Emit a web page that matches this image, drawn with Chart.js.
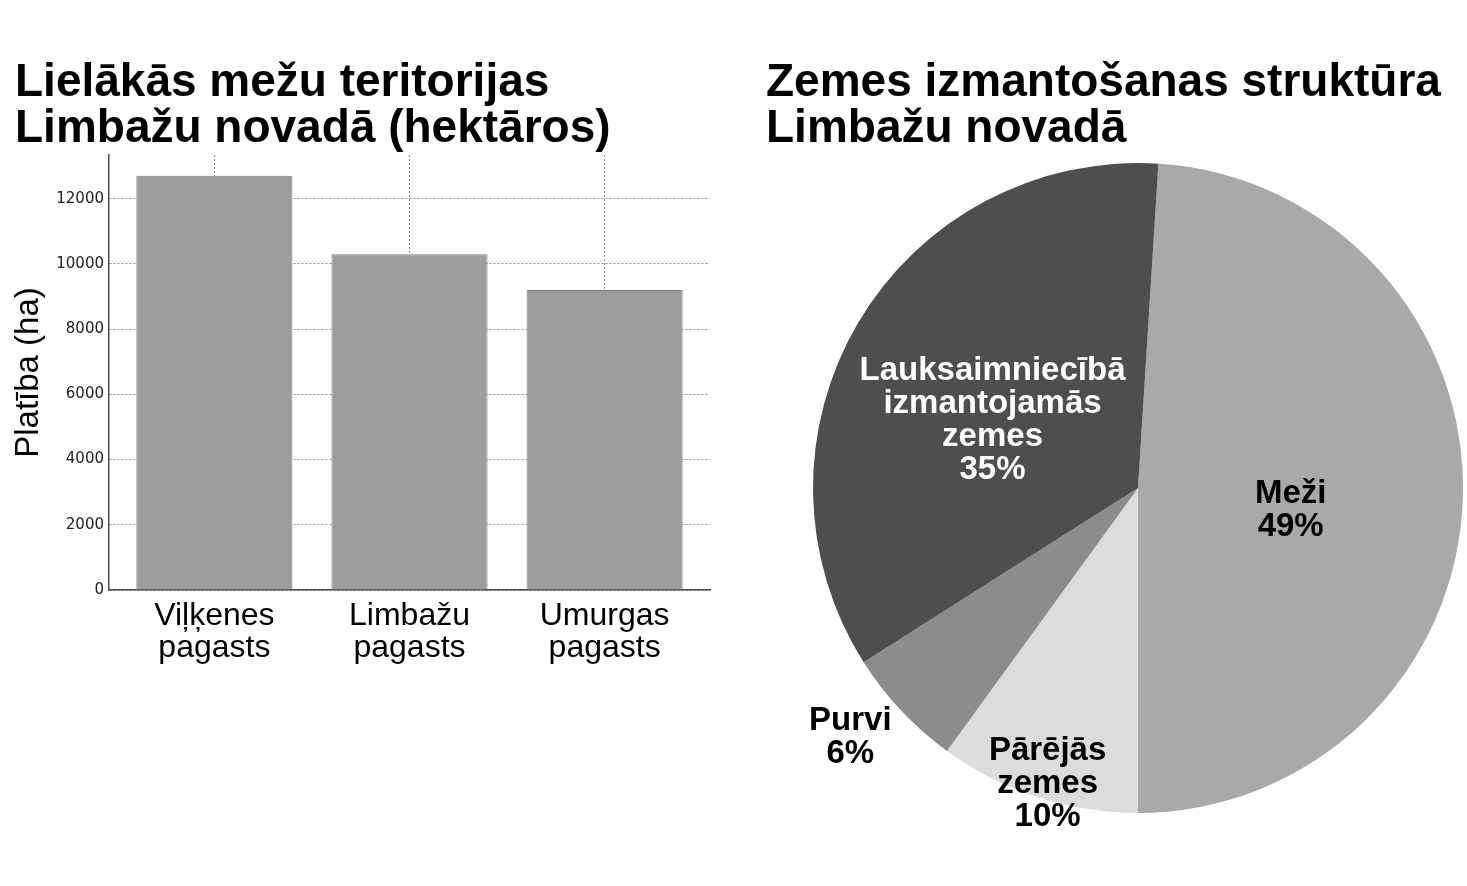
<!DOCTYPE html>
<html>
<head>
<meta charset="utf-8">
<script src="https://cdn.jsdelivr.net/npm/chart.js@4/dist/chart.umd.min.js"></script>
<style>
html,body{margin:0;padding:0;background:#fff;overflow:hidden;width:1467px;height:886px;}
#barWrap{position:absolute;left:0;top:0;width:735px;height:886px;}
#pieWrap{position:absolute;left:735px;top:0;width:775px;height:886px;}
</style>
</head>
<body>
<div id="barWrap"><canvas id="bar"></canvas></div>
<div id="pieWrap"><canvas id="pie"></canvas></div>
<script>
// ---- data ----
const barTitle = ["Lielākās mežu teritorijas", "Limbažu novadā (hektāros)"];
const barCategories = [["Viļķenes", "pagasts"], ["Limbažu", "pagasts"], ["Umurgas", "pagasts"]];
const barValues = [12700, 10300, 9200];
const yTickValues = [0, 2000, 4000, 6000, 8000, 10000, 12000];
const yAxisTitle = "Platība (ha)";

const pieTitle = ["Zemes izmantošanas struktūra", "Limbažu novadā"];
const pieLabels = [["Meži"], ["Pārējās", "zemes"], ["Purvi"], ["Lauksaimniecībā", "izmantojamās", "zemes"]];
const pieValues = [49, 10, 6, 35];

// ---- styles ----
const SANS = '"Liberation Sans", Arial, sans-serif';
const pieColors = ['#a9a9aa', '#dcdcdd', '#8c8c8d', '#4e4e50'];
const pieTextColors = ['#000', '#000', '#000', '#fff'];

Chart.defaults.font.family = SANS;

new Chart(document.getElementById('bar'), {
  type: 'bar',
  data: {
    datasets: [{
      data: barValues.map((v, i) => ({ x: i, y: v })),
      backgroundColor: '#9d9d9d',
      borderColor: '#808080',
      borderWidth: 1,
      barPercentage: 1,
      categoryPercentage: 0.8
    }]
  },
  options: {
    responsive: true,
    maintainAspectRatio: false,
    animation: false,
    layout: { padding: { left: 15, right: 25, top: 0, bottom: 0 } },
    plugins: {
      legend: { display: false },
      tooltip: { enabled: false },
      title: {
        display: true,
        text: barTitle,
        align: 'start',
        color: '#000',
        font: { family: SANS, size: 46, weight: 'bold', lineHeight: 1.0 },
        padding: { top: 60, bottom: 3 }
      }
    },
    scales: {
      x: {
        type: 'linear',
        min: -0.54,
        max: 2.54,
        offset: false,
        afterBuildTicks: s => { s.ticks = barCategories.map((c, i) => ({ value: i })); },
        afterFit: s => { s.height = 296; },
        ticks: {
          callback: v => barCategories[v],
          font: { family: SANS, size: 32, lineHeight: 1.0 },
          color: '#000',
          padding: 10,
          maxRotation: 0,
          autoSkip: false
        },
        grid: { color: '#8f8f8f', lineWidth: 1, drawTicks: false, offset: false },
        border: { display: true, color: '#4a4a4a', width: 1.5, dash: [2, 2] }
      },
      y: {
        min: 0,
        max: 13340,
        afterBuildTicks: s => { s.ticks = yTickValues.map(v => ({ value: v })); },
        afterFit: s => { s.width = 94; },
        ticks: {
          callback: v => String(v),
          font: { family: '"DejaVu Sans", sans-serif', size: 15 },
          color: '#222',
          padding: 5
        },
        grid: { color: '#8f8f8f', lineWidth: 1, drawTicks: false },
        border: { display: true, color: '#4a4a4a', width: 1.5, dash: [2, 2] },
        title: {
          display: true,
          text: yAxisTitle,
          color: '#000',
          font: { family: SANS, size: 33, lineHeight: 0.85 },
          padding: { top: 0, bottom: 0 }
        }
      }
    }
  }
});

const pieLabelPlugin = {
  id: 'pieLabels',
  afterDatasetsDraw(chart, args, opts) {
    const meta = chart.getDatasetMeta(0);
    const ctx = chart.ctx;
    meta.data.forEach((arc, i) => {
      const p = arc.getProps(['x', 'y', 'startAngle', 'endAngle', 'outerRadius'], true);
      const mid = (p.startAngle + p.endAngle) / 2;
      const d = p.outerRadius * opts.dist[i];
      const x = p.x + Math.cos(mid) * d;
      const y = p.y + Math.sin(mid) * d + opts.shiftY;
      const lines = [...pieLabels[i], pieValues[i] + '%'];
      ctx.save();
      ctx.font = 'bold 33px ' + SANS;
      ctx.fillStyle = pieTextColors[i];
      ctx.textBaseline = 'middle';
      ctx.textAlign = 'center';
      const maxW = Math.max(...lines.map(l => ctx.measureText(l).width));
      const cx = opts.align[i] === 'right' ? x - maxW / 2 : x;
      const lh = opts.lineHeight;
      const y0 = y - (lines.length - 1) * lh / 2;
      lines.forEach((l, k) => ctx.fillText(l, cx, y0 + k * lh));
      ctx.restore();
    });
  }
};

new Chart(document.getElementById('pie'), {
  type: 'pie',
  data: {
    labels: pieLabels.map(l => l.join(' ')),
    datasets: [{
      data: pieValues,
      backgroundColor: pieColors,
      borderWidth: 0,
      hoverOffset: 0
    }]
  },
  options: {
    responsive: true,
    maintainAspectRatio: false,
    animation: false,
    rotation: 3.6,
    layout: { padding: { left: 31, right: 0, top: 0, bottom: 73 } },
    plugins: {
      legend: { display: false },
      tooltip: { enabled: false },
      title: {
        display: true,
        text: pieTitle,
        align: 'start',
        color: '#000',
        font: { family: SANS, size: 46, weight: 'bold', lineHeight: 1.0 },
        padding: { top: 60, bottom: 11 }
      },
      pieLabels: {
        dist: [0.47, 0.90, 1.04, 0.52],
        align: ['center', 'center', 'right', 'center'],
        shiftY: 18,
        lineHeight: 33
      }
    }
  },
  plugins: [pieLabelPlugin]
});
</script>
</body>
</html>
